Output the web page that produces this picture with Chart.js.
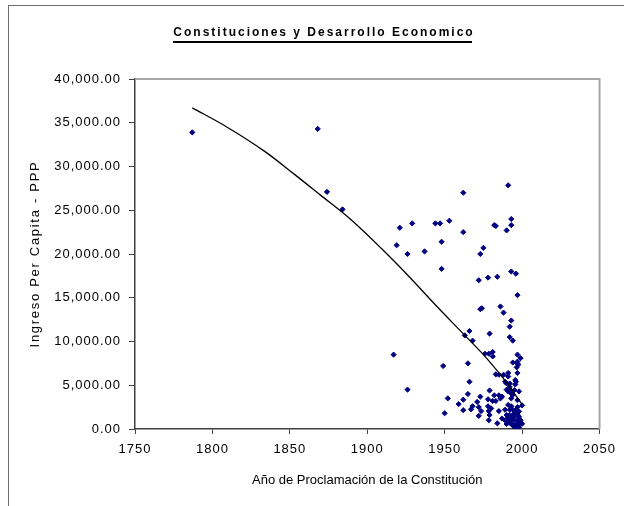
<!DOCTYPE html>
<html>
<head>
<meta charset="utf-8">
<script src="https://cdn.jsdelivr.net/npm/chart.js@4.4.1/dist/chart.umd.min.js"></script>
<style>
  html, body { margin: 0; padding: 0; background: #ffffff; }
  #wrap { width: 624px; height: 506px; position: relative; }
</style>
</head>
<body>
<div id="wrap"><canvas id="c" width="624" height="506"></canvas></div>
<script>
// ---- Data ----
const chartTitle = "Constituciones y Desarrollo Economico";
const xAxisTitle = "Año de Proclamación de la Constitución";
const yAxisTitle = "Ingreso Per Capita - PPP";

// Year of proclamation of each constitution
const years = [
  1787, 1868, 1874, 1884, 1917, 1919, 1921, 1926, 1926, 1929,
  1937, 1944, 1947, 1948, 1948, 1949, 1950, 1952, 1953, 1959,
  1962, 1962, 1962, 1962, 1963, 1965, 1965, 1966, 1966, 1967,
  1968, 1968, 1971, 1972, 1972, 1972, 1973, 1973, 1973, 1973.5,
  1974, 1975, 1976, 1978, 1978, 1978, 1978.5, 1978.5, 1978.5, 1979,
  1979, 1979, 1980, 1981, 1981, 1981, 1982, 1982, 1983, 1983,
  1983, 1984, 1984, 1985, 1985, 1985, 1986, 1986, 1987, 1987,
  1988, 1988, 1989, 1989, 1989, 1990, 1990, 1990, 1990, 1990,
  1991, 1991, 1991, 1991, 1991, 1991, 1991.5, 1992, 1992, 1992,
  1992, 1992, 1992, 1992, 1992, 1992.6, 1993, 1993, 1993, 1993,
  1993, 1993, 1993, 1993, 1994, 1994, 1994, 1994, 1994, 1994,
  1994.5, 1995, 1995, 1995, 1995, 1995.6, 1995.6, 1996, 1996, 1996,
  1996, 1996, 1996.5, 1997, 1997, 1997, 1997, 1997, 1997, 1997,
  1997, 1997, 1997.5, 1998, 1998, 1998, 1998, 1998, 1999, 1999,
  1999, 2000, 2000
];
// Income per capita (PPP) for each constitution
const incomes = [
  33900, 34300, 27100, 25100, 8500, 21000, 23000, 20000, 4500, 23500,
  20300, 23500, 23500, 21400, 18300, 7200, 1800, 3500, 23800, 2850,
  27000, 22500, 3350, 2150, 10700, 7500, 4000, 11200, 5400, 2250,
  10100, 2600, 3100, 17000, 2500, 1500, 20000, 13700, 3700, 2050,
  13800, 20700, 8600, 17300, 3400, 2600, 8600, 2050, 1000, 10900,
  4400, 1600, 2350, 8800, 8300, 3200, 23300, 3850, 23200, 6250,
  3200, 17400, 650, 6200, 3850, 2050, 14000, 3500, 3700, 1200,
  13300, 6200, 5400, 2200, 1000, 22700, 5200, 4500, 1600, 570,
  27850, 6400, 6000, 4300, 2750, 1300, 1000, 11700, 10500, 5200,
  4800, 4500, 2200, 1600, 800, 4100, 24000, 23300, 18000, 12400,
  3500, 2600, 1300, 570, 10100, 7600, 3900, 2200, 1600, 400,
  1000, 4450, 1800, 1400, 260, 5600, 5100, 17750, 5400, 2200,
  570, 300, 7050, 15300, 8500, 7700, 7500, 6400, 3300, 2500,
  1700, 1000, 7350, 4300, 2000, 1400, 570, 200, 8100, 1000,
  700, 2700, 600
];

// Trend line (as drawn in the picture)
const trendYears  = [1787, 1809, 1834, 1853, 1870, 1889, 1909, 1926, 1945, 1963, 1977, 1990, 2000];
const trendValues = [36700, 34550, 31700, 29100, 26700, 24000, 20650, 17600, 14000, 10700, 8100, 5300, 2800];

// Axis ticks
const xTicks = [1750, 1800, 1850, 1900, 1950, 2000, 2050];
const yTicks = [0, 5000, 10000, 15000, 20000, 25000, 30000, 35000, 40000];

// ---- Build datasets ----
const scatterPoints = years.map((y, i) => ({ x: y, y: incomes[i] }));
const trendPoints = trendYears.map((y, i) => ({ x: y, y: trendValues[i] }));

const fmt = new Intl.NumberFormat('en-US', { minimumFractionDigits: 2, maximumFractionDigits: 2 });

const FONT = "'Liberation Sans', Arial, sans-serif";

const decoPlugin = {
  id: 'deco',
  beforeUpdate(chart) { chart.ctx.letterSpacing = '1px'; },
  beforeDraw(chart) {
    const ctx = chart.ctx;
    ctx.letterSpacing = '1px';
    // outer chart frame
    ctx.save();
    ctx.strokeStyle = '#6e6e6e';
    ctx.lineWidth = 1;
    ctx.strokeRect(8.5, 5.5, 800, 800);
    ctx.restore();
  },
  beforeDatasetsDraw(chart) {
    const ctx = chart.ctx;
    const a = chart.chartArea;
    ctx.save();
    ctx.strokeStyle = '#a6a6a6';
    ctx.lineWidth = 2;
    ctx.beginPath();
    ctx.moveTo(a.left, a.top);
    ctx.lineTo(a.right, a.top);
    ctx.lineTo(a.right, a.bottom);
    ctx.stroke();
    ctx.restore();
  },
  afterDraw(chart) {
    const ctx = chart.ctx;
    const a = chart.chartArea;
    ctx.save();
    // chart title, bold, spaced and underlined
    ctx.font = "bold 12px " + FONT;
    ctx.letterSpacing = '2px';
    ctx.fillStyle = '#000';
    ctx.textAlign = 'left';
    ctx.textBaseline = 'middle';
    const w = ctx.measureText(chartTitle).width - 2;
    const x0 = 323 - w / 2;
    ctx.fillText(chartTitle, x0, 33);
    ctx.fillRect(Math.round(x0), 41, Math.round(w), 2);

    // x axis title
    ctx.font = "13px " + FONT;
    ctx.letterSpacing = '0px';
    ctx.textAlign = 'center';
    ctx.fillText(xAxisTitle, (a.left + a.right) / 2, 480);

    // y axis title (rotated)
    ctx.letterSpacing = '1.7px';
    ctx.translate(35, (a.top + a.bottom) / 2);
    ctx.rotate(-Math.PI / 2);
    ctx.fillText(yAxisTitle, 0, 0);
    ctx.restore();
    ctx.letterSpacing = '0px';
  }
};

new Chart(document.getElementById('c'), {
  type: 'scatter',
  data: {
    datasets: [
      {
        label: 'Constituciones',
        data: scatterPoints,
        pointStyle: 'rectRot',
        pointRadius: 2.6,
        pointHoverRadius: 2.6,
        backgroundColor: '#000080',
        borderColor: '#000080',
        borderWidth: 1,
        order: 2
      },
      {
        label: 'Tendencia',
        data: trendPoints,
        showLine: true,
        pointRadius: 0,
        borderColor: '#000000',
        borderWidth: 1.3,
        cubicInterpolationMode: 'monotone',
        fill: false,
        order: 1
      }
    ]
  },
  options: {
    responsive: false,
    animation: false,
    devicePixelRatio: 1,
    layout: { padding: { left: 0, right: 20, top: 79, bottom: 0 } },
    plugins: {
      legend: { display: false },
      title: { display: false },
      tooltip: { enabled: false }
    },
    scales: {
      x: {
        type: 'linear',
        min: 1750,
        max: 2050,
        afterBuildTicks(scale) { scale.ticks = xTicks.map(v => ({ value: v })); },
        afterFit(scale) { scale.height = 77; },
        ticks: {
          color: '#000',
          font: { family: FONT, size: 13 },
          padding: 8,
          maxRotation: 0,
          callback: v => String(v)
        },
        grid: {
          display: true,
          drawOnChartArea: false,
          drawTicks: true,
          tickLength: 5,
          color: '#404040',
          lineWidth: 1
        },
        border: { display: true, color: '#404040', width: 1.5 },
        title: { display: false }
      },
      y: {
        type: 'linear',
        min: 0,
        max: 40000,
        afterBuildTicks(scale) { scale.ticks = yTicks.map(v => ({ value: v })); },
        afterFit(scale) { scale.width = 135; },
        ticks: {
          color: '#000',
          font: { family: FONT, size: 13 },
          padding: 8,
          callback: v => fmt.format(v)
        },
        grid: {
          display: true,
          drawOnChartArea: false,
          drawTicks: true,
          tickLength: 6,
          color: '#404040',
          lineWidth: 1
        },
        border: { display: true, color: '#404040', width: 1.5 },
        title: { display: false }
      }
    }
  },
  plugins: [decoPlugin]
});
</script>
</body>
</html>
